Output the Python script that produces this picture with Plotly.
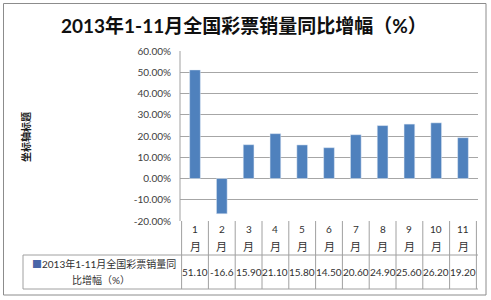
import plotly.graph_objects as go

months = ["1月", "2月", "3月", "4月", "5月", "6月", "7月", "8月", "9月", "10月", "11月"]
month_nums = ["1", "2", "3", "4", "5", "6", "7", "8", "9", "10", "11"]
values = [51.10, -16.6, 15.90, 21.10, 15.80, 14.50, 20.60, 24.90, 25.60, 26.20, 19.20]
value_labels = ["51.10", "-16.6", "15.90", "21.10", "15.80", "14.50", "20.60", "24.90", "25.60", "26.20", "19.20"]
y_ticks = [-20, -10, 0, 10, 20, 30, 40, 50, 60]
y_tick_labels = ["-20.00%", "-10.00%", "0.00%", "10.00%", "20.00%", "30.00%", "40.00%", "50.00%", "60.00%"]
title = "2013年1-11月全国彩票销量同比增幅（%）"
series_line1 = "2013年1-11月全国彩票销量同"
series_line2 = "比增幅（%）"
axis_title = "坐标轴标题"

W_, H_ = 491, 300
L, R, T, B = 180, 478, 51, 221
PW, PH = R - L, B - T

def px(x):
    return (x - L) / PW

def py(y):
    return (B - y) / PH

FONT = "Lato, 'Noto Sans CJK SC', sans-serif"
BAR = "#4f81bd"
GRID = "#a6a6a6"
TXT = "#404040"
TBL = "#a0a0a0"

fig = go.Figure(go.Bar(x=months, y=values, marker_color=BAR, width=0.4,
                       name=series_line1 + series_line2))

shapes = []
shapes.append(dict(type="rect", xref="paper", yref="paper", x0=px(3.5), x1=px(486), y0=py(3.5), y1=py(295),
                   line=dict(color="#8c8c8c", width=1), layer="below"))
for yy in (255, 289):
    shapes.append(dict(type="line", xref="paper", yref="paper", x0=px(23), x1=1, y0=py(yy), y1=py(yy),
                       line=dict(color=TBL, width=1)))
shapes.append(dict(type="line", xref="paper", yref="paper", x0=px(23), x1=px(23), y0=py(255), y1=py(289),
                   line=dict(color=TBL, width=1)))
for i in range(len(months) + 1):
    shapes.append(dict(type="line", xref="x", yref="paper", x0=i - 0.5, x1=i - 0.5, y0=0, y1=py(289),
                       line=dict(color=TBL, width=1)))
shapes.append(dict(type="line", xref="paper", yref="paper", x0=0, x1=0, y0=0, y1=1,
                   line=dict(color=TBL, width=1)))

def a(x, y, text, size, color="#303030", xref="paper", **kw):
    d = dict(x=x, xref=xref, y=y, yref="paper", text=text, showarrow=False,
             xanchor="center", yanchor="middle", font=dict(family=FONT, size=size, color=color))
    d.update(kw)
    return d

ann = []
for m, n, v in zip(months, month_nums, value_labels):
    ann.append(a(m, py(229), n, 10, xref="x"))
    ann.append(a(m, py(246), "月", 11, xref="x"))
    ann.append(a(m, py(272), v, 10, xref="x"))
ann.append(a(px(104), py(264), "<span style='color:#4a66a8'>■</span>" + series_line1, 10))
ann.append(a(px(101), py(280), series_line2, 10))
ann.append(a(px(26), py(137), "<b>" + axis_title + "</b>", 10, color="#202020", textangle=-90))
ann.append(a(px(244), py(25), "<b>" + title + "</b>", 19, color="#101010"))

fig.update_layout(
    width=W_, height=H_, autosize=False,
    margin=dict(l=L, r=W_ - R, t=T, b=H_ - B),
    paper_bgcolor="white", plot_bgcolor="white",
    showlegend=False, bargap=0.6,
    shapes=shapes, annotations=ann,
    xaxis=dict(showticklabels=False, showgrid=False, zeroline=False, showline=False, ticks=""),
    yaxis=dict(range=[-20, 60], tickvals=y_ticks, ticktext=y_tick_labels,
               showgrid=True, gridcolor=GRID, gridwidth=1, zeroline=False,
               showline=False, ticks="", ticklabelstandoff=8,
               tickfont=dict(family=FONT, size=10, color=TXT)),
)

fig.write_html("out.html")
